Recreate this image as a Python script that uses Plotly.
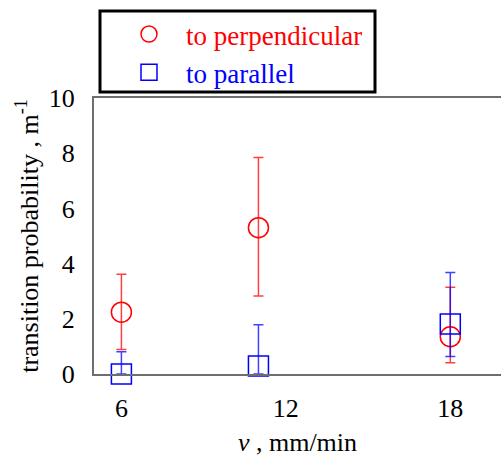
import plotly.graph_objects as go

# data
v_perp = [6, 11, 18]
p_perp = [2.24, 5.30, 1.35]
p_perp_plus = [1.37, 2.54, 1.79]
p_perp_minus = [1.35, 2.47, 0.94]

v_par = [6, 11, 18]
p_par = [0.0, 0.29, 1.81]
p_par_plus = [0.81, 1.49, 1.87]
p_par_minus = [0.0, 0.29, 1.18]

x_ticks = [6, 12, 18]
y_ticks = [0, 2, 4, 6, 8, 10]

FONT = "Liberation Serif"

fig = go.Figure()
fig.add_trace(go.Scatter(
    x=v_perp, y=p_perp, mode="markers",
    name="<span style='color:red'>to perpendicular</span>",
    marker=dict(symbol="circle-open", size=20, color="red", line=dict(width=1.5, color="red")),
    error_y=dict(type="data", symmetric=False, array=p_perp_plus, arrayminus=p_perp_minus,
                 color="rgba(255,0,0,0.75)", thickness=1.5, width=5),
    cliponaxis=False, legendgroup="a",
))
fig.add_trace(go.Scatter(
    x=v_par, y=p_par, mode="markers",
    name="<span style='color:blue'>to parallel</span>",
    marker=dict(symbol="square-open", size=20, color="blue", line=dict(width=1.5, color="blue")),
    error_y=dict(type="data", symmetric=False, array=p_par_plus, arrayminus=p_par_minus,
                 color="rgba(0,0,255,0.75)", thickness=1.5, width=5),
    cliponaxis=False, legendgroup="b",
))

W, H = 501, 457
L, R, T, B = 94, 0, 98, 83
pw, ph = W - L - R, H - T - B

def px_to_paper_x(px):
    return (px - L) / pw

def px_to_paper_y(py):
    return (H - B - py) / ph

fig.update_layout(
    width=W, height=H,
    margin=dict(l=L, r=R, t=T, b=B, pad=0),
    paper_bgcolor="white", plot_bgcolor="white",
    font=dict(family=FONT, size=26, color="black"),
    showlegend=True,
    legend=dict(
        x=px_to_paper_x(112), xanchor="left",
        y=px_to_paper_y(10), yanchor="top",
        bgcolor="rgba(0,0,0,0)", borderwidth=0,
        font=dict(family=FONT, size=27),
        itemwidth=64, tracegroupgap=0,
    ),
    xaxis=dict(
        range=[5.0, 19.85], tickvals=x_ticks, ticktext=[str(t) for t in x_ticks],
        showgrid=False, zeroline=False, showline=True, linecolor="#6e6e6e", linewidth=2,
        mirror=True, ticks="", ticklabelstandoff=10,
        tickfont=dict(family=FONT, size=26),
        title=dict(text="<i>v</i> , mm/min", font=dict(family=FONT, size=26), standoff=12),
    ),
    yaxis=dict(
        range=[0, 10], tickvals=y_ticks,
        showgrid=False, zeroline=False, showline=True, linecolor="#6e6e6e", linewidth=2,
        ticks="", ticklabelstandoff=12,
        tickfont=dict(family=FONT, size=26),
        title=dict(text="transition probability , m<sup>-1</sup>", font=dict(family=FONT, size=26), standoff=3),
    ),
    shapes=[dict(
        type="rect", xref="paper", yref="paper",
        x0=px_to_paper_x(100), x1=px_to_paper_x(375),
        y0=px_to_paper_y(92), y1=px_to_paper_y(11),
        line=dict(color="black", width=3), fillcolor="rgba(0,0,0,0)",
    )],
)

fig.write_html("out.html")
